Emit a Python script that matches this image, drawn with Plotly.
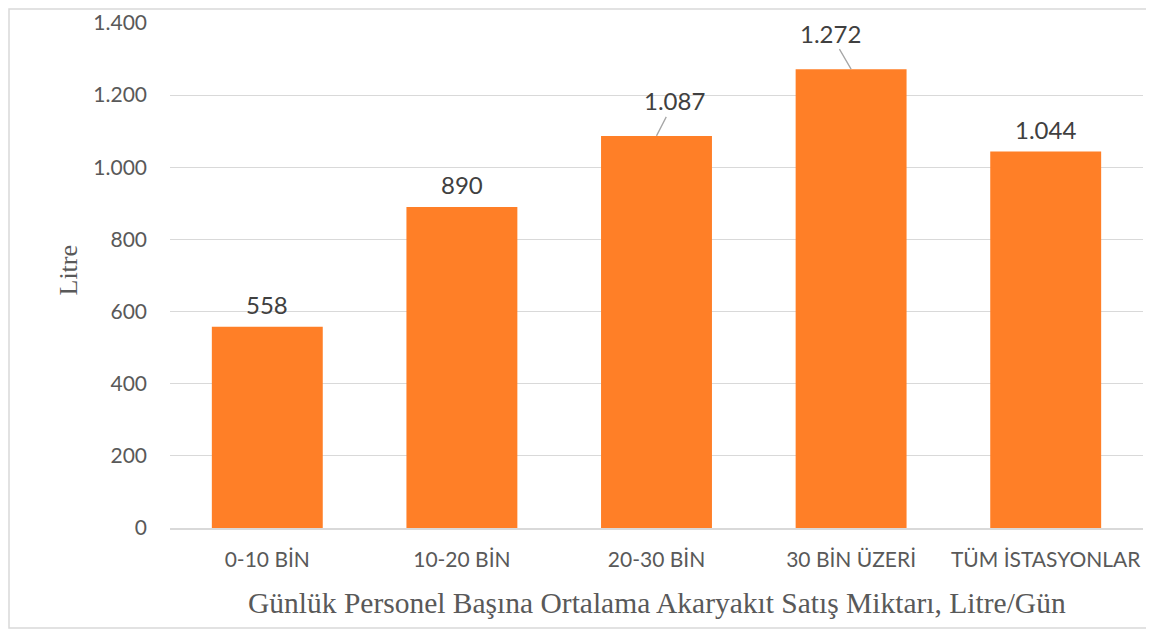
import plotly.graph_objects as go

categories = ["0-10 BİN", "10-20 BİN", "20-30 BİN", "30 BİN ÜZERİ", "TÜM İSTASYONLAR"]
values = [558, 890, 1087, 1272, 1044]
labels = ["558", "890", "1.087", "1.272", "1.044"]
tick_vals = [0, 200, 400, 600, 800, 1000, 1200, 1400]
tick_text = ["0", "200", "400", "600", "800", "1.000", "1.200", "1.400"]
x_title = "Günlük Personel Başına Ortalama Akaryakıt Satış Miktarı, Litre/Gün"
y_title = "Litre"

W, H = 1143, 621
ML, MR, MT, MB = 162, 8, 15, 101
pw, ph = W - ML - MR, H - MT - MB

BAR = "#FF7F27"
TXT = "#595959"
GRID = "#D9D9D9"

fig = go.Figure()
fig.add_trace(go.Bar(x=categories, y=values, marker=dict(color=BAR, line=dict(width=0)),
                     width=0.57, hoverinfo="x+y"))

# label offsets (pixels): (ax, ay, arrow)
offsets = [(0, -22, False), (0, -22, False), (18, -35, True), (-21, -36, True), (0, -22, False)]
for c, v, t, (ax, ay, arr) in zip(categories, values, labels, offsets):
    if arr:
        fig.add_annotation(x=c, y=v, text=t, showarrow=True, arrowhead=0, arrowwidth=1.3,
                           arrowcolor="#A6A6A6", ax=ax, ay=ay, standoff=0,
                           font=dict(family="Lato", size=24, color="#404040"))
    else:
        fig.add_annotation(x=c, y=v, text=t, showarrow=False, yshift=-ay, yanchor="middle",
                           font=dict(family="Lato", size=24, color="#404040"))

# axis titles
fig.add_annotation(xref="paper", yref="paper", x=0.5, y=0, yshift=-75, text=x_title,
                   showarrow=False, xanchor="center", yanchor="middle",
                   font=dict(family="Liberation Serif", size=29.5, color=TXT))
fig.add_annotation(xref="paper", yref="paper", x=0, y=0.5, xshift=-102, yshift=5, text=y_title,
                   showarrow=False, xanchor="center", yanchor="middle", textangle=-90,
                   font=dict(family="Liberation Serif", size=26, color=TXT))

fig.add_shape(type="rect", xref="paper", yref="paper",
              x0=(1 - ML) / pw, x1=(W - 1 - ML) / pw,
              y0=(H - MB - (H - 1)) / ph, y1=(H - MB - 1) / ph,
              line=dict(color=GRID, width=1.5), fillcolor="rgba(0,0,0,0)", layer="below")

fig.update_layout(
    width=W, height=H, margin=dict(l=ML, r=MR, t=MT, b=MB, autoexpand=False),
    paper_bgcolor="white", plot_bgcolor="white", showlegend=False,
    bargap=0.43,
    xaxis=dict(showgrid=False, showline=True, linecolor=GRID, linewidth=2, automargin=False,
               ticks="outside", ticklen=12, tickcolor="rgba(0,0,0,0)",
               tickfont=dict(family="Lato", size=21, color=TXT)),
    yaxis=dict(range=[0, 1400], tickvals=tick_vals, ticktext=tick_text, automargin=False,
               showgrid=True, gridcolor=GRID, gridwidth=1.3, zeroline=False, showline=False,
               ticklabelstandoff=22,
               tickfont=dict(family="Lato", size=21, color=TXT)),
)

fig.write_html("out.html")
